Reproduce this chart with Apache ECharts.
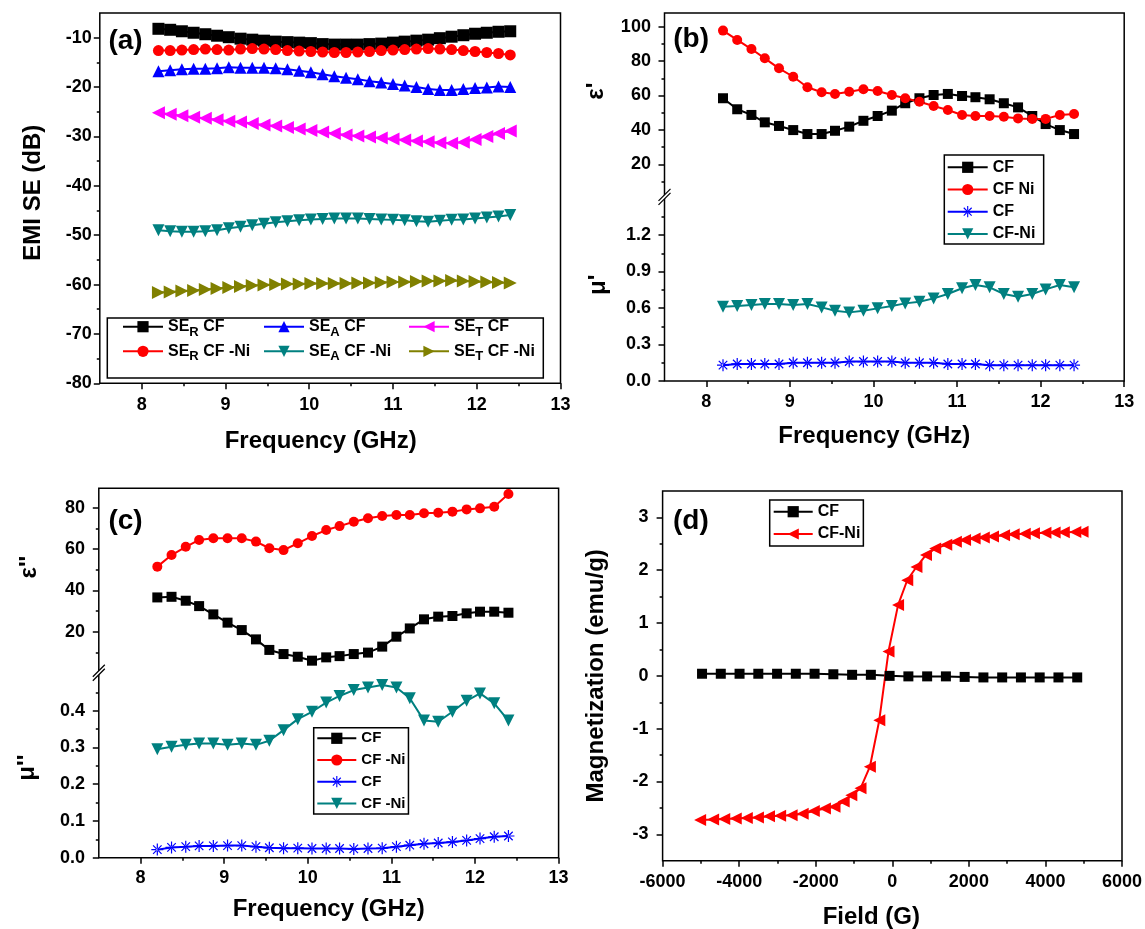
<!DOCTYPE html>
<html><head><meta charset="utf-8">
<script src="https://cdn.jsdelivr.net/npm/echarts@6/dist/echarts.min.js"></script>
<style>html,body{margin:0;padding:0;background:#fff}#c{width:1145px;height:929px}</style>
</head><body><div id="c"></div>
<script>
const FONT = 'Liberation Sans, Arial, Helvetica, sans-serif';

// ---------------- DATA ----------------
// (a) EMI SE vs frequency
const freqA = [8.20,8.34,8.48,8.62,8.76,8.90,9.04,9.18,9.32,9.46,9.60,9.74,9.88,10.02,10.16,10.30,10.44,10.58,10.72,10.86,11.00,11.14,11.28,11.42,11.56,11.70,11.84,11.98,12.12,12.26,12.40];
const seR_CF   = [-8.2,-8.4,-8.7,-9.0,-9.3,-9.6,-9.9,-10.2,-10.4,-10.6,-10.8,-10.9,-11.0,-11.1,-11.3,-11.4,-11.4,-11.4,-11.3,-11.2,-11.0,-10.8,-10.6,-10.4,-10.1,-9.8,-9.5,-9.2,-9.0,-8.8,-8.7];
const seR_CFNi = [-12.6,-12.6,-12.5,-12.4,-12.3,-12.4,-12.5,-12.3,-12.2,-12.3,-12.4,-12.6,-12.7,-12.8,-12.9,-13.0,-13.0,-12.9,-12.8,-12.6,-12.5,-12.4,-12.3,-12.2,-12.3,-12.4,-12.6,-12.8,-13.0,-13.2,-13.5];
const seA_CF   = [-16.8,-16.6,-16.4,-16.3,-16.3,-16.2,-16.0,-16.1,-16.1,-16.1,-16.2,-16.4,-16.7,-17.0,-17.4,-17.8,-18.1,-18.4,-18.8,-19.1,-19.4,-19.7,-20.0,-20.4,-20.6,-20.6,-20.4,-20.2,-20.1,-19.9,-20.0];
const seA_CFNi = [-49.0,-49.2,-49.3,-49.3,-49.2,-49.0,-48.6,-48.3,-48.0,-47.7,-47.4,-47.2,-47.0,-46.8,-46.7,-46.6,-46.6,-46.6,-46.7,-46.8,-46.9,-47.0,-47.2,-47.3,-47.1,-46.9,-46.8,-46.6,-46.4,-46.2,-45.9];
const seT_CF   = [-25.2,-25.5,-25.8,-26.1,-26.3,-26.6,-26.9,-27.1,-27.4,-27.7,-27.9,-28.2,-28.5,-28.8,-29.1,-29.4,-29.7,-29.9,-30.1,-30.3,-30.5,-30.7,-30.9,-31.1,-31.3,-31.4,-31.2,-30.6,-30.0,-29.4,-28.9];
const seT_CFNi = [-61.6,-61.5,-61.3,-61.2,-61.0,-60.8,-60.6,-60.4,-60.2,-60.1,-60.0,-59.9,-59.9,-59.8,-59.8,-59.8,-59.8,-59.7,-59.7,-59.6,-59.5,-59.5,-59.4,-59.3,-59.3,-59.2,-59.3,-59.4,-59.5,-59.6,-59.7];

// (b),(c) permittivity / permeability vs frequency
const freqB = [8.20,8.37,8.54,8.70,8.87,9.04,9.21,9.38,9.54,9.71,9.88,10.05,10.22,10.38,10.55,10.72,10.89,11.06,11.22,11.39,11.56,11.73,11.90,12.06,12.23,12.40];
const epsRe_CF   = [58.4,52.0,48.7,44.4,42.3,39.9,37.6,37.6,39.5,41.9,45.3,48.1,51.2,55.5,58.4,60.3,60.9,59.7,59.0,57.8,55.5,53.1,48.1,43.4,39.9,37.6];
const epsRe_CFNi = [97.7,92.3,87.0,81.6,75.8,70.9,64.8,61.9,60.9,62.2,63.6,62.6,60.3,58.4,56.4,53.9,51.6,48.7,48.1,48.1,47.7,46.7,46.4,46.4,48.7,49.2];
const muRe_CF    = [0.13,0.14,0.14,0.14,0.14,0.15,0.15,0.15,0.15,0.16,0.16,0.16,0.16,0.15,0.15,0.15,0.14,0.14,0.14,0.13,0.13,0.13,0.13,0.13,0.13,0.13];
const muRe_CFNi  = [0.611,0.616,0.624,0.633,0.633,0.624,0.633,0.605,0.578,0.564,0.578,0.597,0.616,0.638,0.652,0.679,0.715,0.762,0.789,0.770,0.715,0.693,0.715,0.753,0.789,0.770];
const epsIm_CF   = [36.6,36.9,35.0,32.4,28.4,24.4,20.8,16.3,11.2,9.2,7.9,6.0,7.6,8.2,9.2,9.9,12.8,17.6,21.6,26.0,27.3,27.6,28.9,29.7,29.7,29.2];
const epsIm_CFNi = [51.5,57.1,61.1,64.4,65.2,65.2,65.2,63.6,60.4,59.5,62.8,66.3,69.2,71.1,73.2,74.9,76.0,76.5,76.5,77.3,77.6,78.1,79.2,79.7,80.5,86.6];
const muIm_CF    = [0.022,0.028,0.030,0.032,0.032,0.033,0.033,0.030,0.027,0.026,0.026,0.025,0.025,0.025,0.024,0.025,0.026,0.030,0.034,0.038,0.040,0.043,0.047,0.052,0.057,0.059];
const muIm_CFNi  = [0.295,0.302,0.307,0.311,0.311,0.307,0.311,0.307,0.318,0.347,0.377,0.397,0.422,0.440,0.456,0.463,0.470,0.463,0.434,0.373,0.370,0.397,0.427,0.447,0.420,0.373];

// (d) magnetization vs field
const field_CF = [-4970,-4480,-3990,-3500,-3010,-2520,-2030,-1540,-1050,-560,-70,420,910,1400,1890,2380,2870,3360,3850,4340,4830];
const mag_CF   = [0.04,0.04,0.04,0.04,0.04,0.04,0.04,0.03,0.02,0.02,0.0,-0.01,-0.01,-0.01,-0.02,-0.03,-0.03,-0.03,-0.03,-0.03,-0.03];
const field_CFNi = [-5020,-4680,-4390,-4090,-3800,-3510,-3220,-2930,-2630,-2340,-2050,-1760,-1510,-1270,-1070,-830,-585,-340,-100,150,390,630,880,1120,1410,1660,1900,2150,2390,2630,2920,3170,3460,3700,4000,4240,4480,4780,4970];
const mag_CFNi   = [-2.73,-2.72,-2.71,-2.70,-2.69,-2.68,-2.66,-2.65,-2.64,-2.61,-2.56,-2.51,-2.48,-2.38,-2.26,-2.13,-1.72,-0.84,0.46,1.34,1.81,2.06,2.29,2.41,2.48,2.54,2.57,2.60,2.62,2.64,2.66,2.68,2.69,2.70,2.71,2.715,2.72,2.725,2.73];

// tick labels
const freqTicks = [8,9,10,11,12,13];
const freqMinor = [8.5,9.5,10.5,11.5,12.5];
const seTicks = [-80,-70,-60,-50,-40,-30,-20,-10];
const seMinor = [-75,-65,-55,-45,-35,-25,-15];
const epsReTicks = [20,40,60,80,100];
const epsReMinor = [10,30,50,70,90];
const muReTicks = [0,0.3,0.6,0.9,1.2];
const muReMinor = [0.15,0.45,0.75,1.05,1.35];
const epsImTicks = [20,40,60,80];
const epsImMinor = [10,30,50,70];
const muImTicks = [0,0.1,0.2,0.3,0.4];
const muImMinor = [0.05,0.15,0.25,0.35,0.45];
const fieldTicks = [-6000,-4000,-2000,0,2000,4000,6000];
const fieldMinor = [-5000,-3000,-1000,1000,3000,5000];
const magTicks = [-3,-2,-1,0,1,2,3];
const magMinor = [-2.5,-1.5,-0.5,0.5,1.5,2.5];

// ---------------- LAYOUT ----------------
const GA = {left:99.8, top:13, width:460.7, height:370.3};
const GB = {left:664.5, width:459.7, top:12.9, upH:182.4, loTop:198.5, loH:182.5};
const GC = {left:98.8, width:459.8, top:488.3, upH:179.6, loTop:677.6, loH:180.1};
const GD = {left:662.6, top:491, width:459.4, height:369.7};

const zip = (xs, ys) => xs.map((x, i) => [x, ys[i]]);
const ASTER = 'path://M-1,-10L1,-10L1,10L-1,10Z M-10,-1L10,-1L10,1L-10,1Z M6.36,7.78L7.78,6.36L-6.36,-7.78L-7.78,-6.36Z M-7.78,6.36L-6.36,7.78L7.78,-6.36L6.36,-7.78Z';

function tStyle(size){ return {color:'#000', fontFamily:FONT, fontWeight:'bold', fontSize:size}; }
function mainAxis(dim, gi, min, max, majors, o){
  return {
    type:'value', gridIndex:gi, min:min, max:max,
    position: dim === 'x' ? 'bottom' : 'left',
    axisLine:{show:false, onZero:false},
    axisTick:{show:true, customValues:majors, length:6, lineStyle:{color:'#000', width:1.5}},
    axisLabel:{show:true, customValues:majors, margin:o.margin, formatter:o.fmt, color:'#000', fontSize:18, fontWeight:'bold', fontFamily:FONT},
    splitLine:{show:false},
    name:o.name || '', nameLocation:'middle', nameGap:o.nameGap || 30, nameRotate: dim === 'y' ? 90 : 0,
    nameMoveOverlap:false,
    nameTextStyle:Object.assign(tStyle(24), {padding:o.pad || [0,0,0,0]})
  };
}
function minorAxis(dim, gi, min, max, minors){
  return {
    type:'value', gridIndex:gi, min:min, max:max,
    position: dim === 'x' ? 'bottom' : 'left',
    axisLine:{show:false, onZero:false},
    axisTick:{show:true, customValues:minors, length:3, lineStyle:{color:'#000', width:1.5}},
    axisLabel:{show:false, customValues:minors},
    splitLine:{show:false}
  };
}
function hiddenAxis(gi, min, max){ return {type:'value', gridIndex:gi, min:min, max:max, show:false, splitLine:{show:false}}; }
const f0 = v => String(v);
const f1 = v => v.toFixed(1);

function line(name, xi, yi, data, color, symbol, size, rot){
  return {name:name, type:'line', xAxisIndex:xi, yAxisIndex:yi, data:data,
    symbol:symbol, symbolSize:size, symbolRotate:rot || 0,
    lineStyle:{color:color, width:2}, itemStyle:{color:color},
    emphasis:{disabled:true}, z:2};
}

const grids = [
  {left:GA.left, top:GA.top, width:GA.width, height:GA.height, show:true, borderColor:'#000', borderWidth:1.5, outerBoundsMode:'none'},
  {left:GB.left, top:GB.top, width:GB.width, height:GB.loTop + GB.loH - GB.top, show:true, borderColor:'#000', borderWidth:1.5, outerBoundsMode:'none'},
  {left:GB.left, top:GB.top, width:GB.width, height:GB.upH, outerBoundsMode:'none'},
  {left:GB.left, top:GB.loTop, width:GB.width, height:GB.loH, outerBoundsMode:'none'},
  {left:GC.left, top:GC.top, width:GC.width, height:GC.loTop + GC.loH - GC.top, show:true, borderColor:'#000', borderWidth:1.5, outerBoundsMode:'none'},
  {left:GC.left, top:GC.top, width:GC.width, height:GC.upH, outerBoundsMode:'none'},
  {left:GC.left, top:GC.loTop, width:GC.width, height:GC.loH, outerBoundsMode:'none'},
  {left:GD.left, top:GD.top, width:GD.width, height:GD.height, show:true, borderColor:'#000', borderWidth:1.5, outerBoundsMode:'none'}
];

const xAxes = [
  mainAxis('x', 0, 7.5, 13, freqTicks, {margin:12.7, fmt:f0, name:'Frequency (GHz)', nameGap:46.5, pad:[0,19,0,0]}),
  minorAxis('x', 0, 7.5, 13, freqMinor),
  hiddenAxis(1, 7.5, 13),
  hiddenAxis(2, 7.5, 13),
  mainAxis('x', 3, 7.5, 13, freqTicks, {margin:11.7, fmt:f0, name:'Frequency (GHz)', nameGap:43, pad:[0,40,0,0]}),
  minorAxis('x', 3, 7.5, 13, freqMinor),
  hiddenAxis(4, 7.5, 13),
  hiddenAxis(5, 7.5, 13),
  mainAxis('x', 6, 7.5, 13, freqTicks, {margin:11.6, fmt:f0, name:'Frequency (GHz)', nameGap:40}),
  minorAxis('x', 6, 7.5, 13, freqMinor),
  mainAxis('x', 7, -6000, 6000, fieldTicks, {margin:12, fmt:f0, name:'Field (G)', nameGap:45, pad:[0,42,0,0]}),
  minorAxis('x', 7, -6000, 6000, fieldMinor)
];
const yAxes = [
  mainAxis('y', 0, -80, -5, seTicks, {margin:8, fmt:f0, name:'EMI SE (dB)', nameGap:54, pad:[0,0,0,11]}),
  minorAxis('y', 0, -80, -5, seMinor),
  hiddenAxis(1, 0, 1),
  mainAxis('y', 2, 2, 108, epsReTicks, {margin:13.6, fmt:f0, name:"ε'", nameGap:56, pad:[0,0,0,26]}),
  minorAxis('y', 2, 2, 108, epsReMinor),
  mainAxis('y', 3, 0, 1.5, muReTicks, {margin:13.6, fmt:f1, name:"μ'", nameGap:54.5, pad:[0,0,0,10]}),
  minorAxis('y', 3, 0, 1.5, muReMinor),
  hiddenAxis(4, 0, 1),
  mainAxis('y', 5, 2.5, 89.4, epsImTicks, {margin:13.7, fmt:f0, name:"ε''", nameGap:57, pad:[0,0,0,22]}),
  minorAxis('y', 5, 2.5, 89.4, epsImMinor),
  mainAxis('y', 6, 0, 0.49, muImTicks, {margin:13.7, fmt:f1, name:"μ''", nameGap:59}),
  minorAxis('y', 6, 0, 0.49, muImMinor),
  mainAxis('y', 7, -3.5, 3.5, magTicks, {margin:14, fmt:f0, name:'Magnetization (emu/g)', nameGap:54}),
  minorAxis('y', 7, -3.5, 3.5, magMinor)
];

const series = [
  line('aSER_CF', 0, 0, zip(freqA, seR_CF), '#000000', 'rect', 12),
  line('aSER_CFNi', 0, 0, zip(freqA, seR_CFNi), '#ff0000', 'circle', 11),
  line('aSEA_CF', 0, 0, zip(freqA, seA_CF), '#0000ff', 'triangle', 12),
  line('aSEA_CFNi', 0, 0, zip(freqA, seA_CFNi), '#008080', 'triangle', 12, 180),
  line('aSET_CF', 0, 0, zip(freqA, seT_CF), '#ff00ff', 'triangle', 13, 90),
  line('aSET_CFNi', 0, 0, zip(freqA, seT_CFNi), '#808000', 'triangle', 13, -90),

  line('bEpsCF', 3, 3, zip(freqB, epsRe_CF), '#000000', 'rect', 10),
  line('bEpsCFNi', 3, 3, zip(freqB, epsRe_CFNi), '#ff0000', 'circle', 10),
  line('bMuCF', 4, 5, zip(freqB, muRe_CF), '#0000ff', ASTER, 12),
  line('bMuCFNi', 4, 5, zip(freqB, muRe_CFNi), '#008080', 'triangle', 12, 180),

  line('cEpsCF', 7, 8, zip(freqB, epsIm_CF), '#000000', 'rect', 10),
  line('cEpsCFNi', 7, 8, zip(freqB, epsIm_CFNi), '#ff0000', 'circle', 10),
  line('cMuCF', 8, 10, zip(freqB, muIm_CF), '#0000ff', ASTER, 12),
  line('cMuCFNi', 8, 10, zip(freqB, muIm_CFNi), '#008080', 'triangle', 12, 180),

  line('dCF', 10, 12, zip(field_CF, mag_CF), '#000000', 'rect', 10),
  line('dCFNi', 10, 12, zip(field_CFNi, mag_CFNi), '#ff0000', 'triangle', 12, 90)
];

const labelA = {
  aSER_CF:['R','CF'], aSEA_CF:['A','CF'], aSET_CF:['T','CF'],
  aSER_CFNi:['R','CF -Ni'], aSEA_CFNi:['A','CF -Ni'], aSET_CFNi:['T','CF -Ni']
};
const labelOther = {
  bEpsCF:'CF', bEpsCFNi:'CF Ni', bMuCF:'CF', bMuCFNi:'CF-Ni',
  cEpsCF:'CF', cEpsCFNi:'CF -Ni', cMuCF:'CF', cMuCFNi:'CF -Ni',
  dCF:'CF', dCFNi:'CF-Ni'
};
const richA = {
  m:{fontSize:16, fontWeight:'bold', fontFamily:FONT, color:'#000', verticalAlign:'middle'},
  s:{fontSize:13, fontWeight:'bold', fontFamily:FONT, color:'#000', verticalAlign:'middle', padding:[11,0,0,0]}
};
function legA(names, left){
  return {data:names, left:left, top:318.7, orient:'vertical', itemGap:4.6, itemWidth:40, itemHeight:14,
    padding:0, selectedMode:false,
    formatter: n => '{m|SE}{s|' + labelA[n][0] + '}{m| ' + labelA[n][1] + '}',
    textStyle:{fontSize:16, fontWeight:'bold', fontFamily:FONT, color:'#000', rich:richA}};
}
function legBox(names, left, top, pad, gap, iw, fs){
  return {data:names, left:left, top:top, orient:'vertical', itemGap:gap, itemWidth:iw, itemHeight:14,
    padding:pad, selectedMode:false, borderColor:'#000', borderWidth:1.5,
    formatter: n => labelOther[n],
    textStyle:{fontSize:fs, fontWeight:'bold', fontFamily:FONT, color:'#000'}};
}
const legends = [
  legA(['aSER_CF','aSER_CFNi'], 122),
  legA(['aSEA_CF','aSEA_CFNi'], 263),
  legA(['aSET_CF','aSET_CFNi'], 408),
  legBox(['bEpsCF','bEpsCFNi','bMuCF','bMuCFNi'], 944.3, 155, [4.3,8.3,2,2.4], 6.2, 40, 16),
  legBox(['cEpsCF','cEpsCFNi','cMuCF','cMuCFNi'], 313.7, 727.7, [3.1,3,3,2.6], 6.7, 39, 15),
  legBox(['dCF','dCFNi'], 769.7, 500, [3.7,3,4,3], 6.3, 39, 16)
];

const titles = [
  {text:'(a)', left:108.4, top:27, padding:0, textStyle:tStyle(28)},
  {text:'(b)', left:673.3, top:25.5, padding:0, textStyle:tStyle(28)},
  {text:'(c)', left:108.4, top:507.7, padding:0, textStyle:tStyle(28)},
  {text:'(d)', left:673, top:506.8, padding:0, textStyle:tStyle(28)}
];

function breakMark(L, g){
  return [
    {type:'polygon', z:100, shape:{points:[[L-6,g+4],[L+6,g-8],[L+6,g-4],[L-6,g+8]]}, style:{fill:'#fff', stroke:null}},
    {type:'line', z:101, shape:{x1:L-6, y1:g+4, x2:L+6, y2:g-8}, style:{stroke:'#000', lineWidth:1.2}},
    {type:'line', z:101, shape:{x1:L-6, y1:g+8, x2:L+6, y2:g-4}, style:{stroke:'#000', lineWidth:1.2}}
  ];
}
const graphics = [
  {type:'rect', z:100, shape:{x:107.3, y:318, width:436, height:60}, style:{fill:null, stroke:'#000', lineWidth:1.5}}
].concat(
  breakMark(GB.left, (GB.top + GB.upH + GB.loTop) / 2),
  breakMark(GC.left, (GC.top + GC.upH + GC.loTop) / 2)
);

const chart = echarts.init(document.getElementById('c'), null, {renderer:'canvas'});
chart.setOption({
  animation:false,
  backgroundColor:'#fff',
  textStyle:{fontFamily:FONT},
  title:titles,
  grid:grids,
  xAxis:xAxes,
  yAxis:yAxes,
  legend:legends,
  series:series,
  graphic:graphics
});
</script>
</body></html>
